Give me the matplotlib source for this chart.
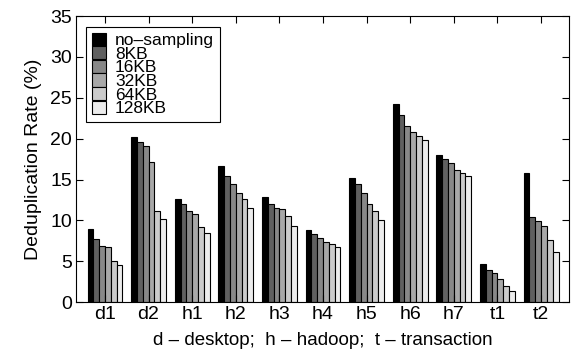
import numpy as np
import matplotlib
matplotlib.use('Agg')
import matplotlib.pyplot as plt

plt.rcParams['font.family'] = ['Liberation Sans', 'DejaVu Sans']

groups = ['d1', 'd2', 'h1', 'h2', 'h3', 'h4', 'h5', 'h6', 'h7', 't1', 't2']
series = ['no\u2013sampling', '8KB', '16KB', '32KB', '64KB', '128KB']
colors = ['#000000', '#606060', '#888888', '#a8a8a8', '#cbcbcb', '#ececec']

nosampling = [8.9, 20.2, 12.6, 16.6, 12.9, 8.8, 15.2, 24.2, 18.0, 4.65, 15.75]
kb8 = [7.75, 19.6, 12.0, 15.4, 12.0, 8.4, 14.5, 22.9, 17.5, 3.9, 10.4]
kb16 = [6.9, 19.1, 11.2, 14.4, 11.5, 7.9, 13.4, 21.6, 17.0, 3.55, 9.9]
kb32 = [6.7, 17.2, 10.8, 13.4, 11.35, 7.4, 12.0, 20.8, 16.2, 2.85, 9.35]
kb64 = [5.05, 11.1, 9.2, 12.6, 10.5, 7.1, 11.2, 20.3, 15.8, 1.95, 7.55]
kb128 = [4.6, 10.2, 8.5, 11.5, 9.3, 6.7, 10.1, 19.8, 15.4, 1.35, 6.15]
values = [nosampling, kb8, kb16, kb32, kb64, kb128]

fig = plt.figure(figsize=(5.71, 3.58), dpi=100)
ax = fig.add_axes([0.133, 0.156, 0.8635, 0.799])

x = np.arange(len(groups))
w = 0.8 / len(series)
for i, (name, vals) in enumerate(zip(series, values)):
    ax.bar(x - 0.4 + w * (i + 0.5), vals, w, color=colors[i], edgecolor='black',
           linewidth=0.8, label=name)

ax.set_xlim(-0.665, 10.64)
ax.set_ylim(0, 35)
ax.set_yticks(range(0, 36, 5))
ax.set_xticks(x)
ax.set_xticklabels(groups)
ax.tick_params(direction='in', top=True, right=True, labelsize=14, length=5, width=0.8, pad=3)
ax.set_ylabel('Deduplication Rate (%)', fontsize=14, labelpad=6)
ax.set_xlabel('d \u2013 desktop;  h \u2013 hadoop;  t \u2013 transaction', fontsize=13.5, labelpad=6)

leg = ax.legend(loc='upper left', fontsize=12.5, handlelength=0.8, handleheight=0.8,
                labelspacing=-0.12, handletextpad=0.5, borderpad=0.35,
                fancybox=False, edgecolor='black', framealpha=1,
                bbox_to_anchor=(0.0, 1.0), borderaxespad=0.6)
leg.get_frame().set_linewidth(0.8)

fig.savefig('out.png', dpi=100)
